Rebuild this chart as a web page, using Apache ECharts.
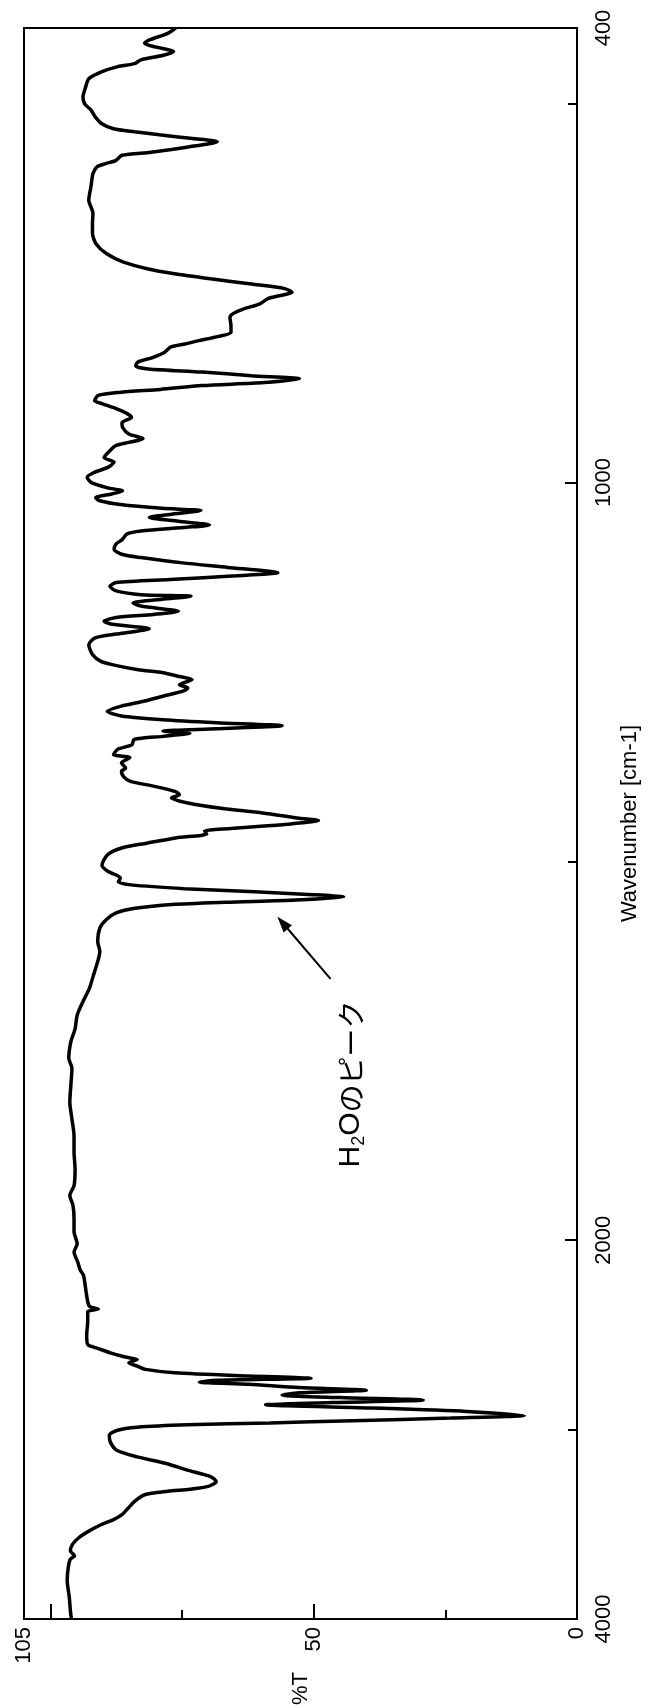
<!DOCTYPE html>
<html>
<head>
<meta charset="utf-8">
<script src="https://cdn.jsdelivr.net/npm/echarts@6/dist/echarts.min.js"></script>
<style>
html,body{margin:0;padding:0;background:#fff;}
#chart{width:649px;height:1708px;}
</style>
</head>
<body>
<div id="chart"></div>
<script>
// Wavenumber [cm-1] and %T
const wavenumbers = [
400,407,416,420,425,431,436,442,447,451,458,467,478,491,500,508,517,526,533,537,541,546,550,557,564,568,575,579,583,592,610,627,645,
658,671,685,698,709,718,724,731,738,744,749,753,757,764,771,777,782,793,802,807,813,817,821,828,835,841,846,850,854,859,863,868,872,877,881,885,892,896,903,909,914,
921,927,936,942,947,951,958,967,973,980,987,993,1000,1007,1011,1015,1020,1024,1029,1034,1037,1042,1046,1051,1056,1059,1064,1068,1075,1081,1088,1095,1099,1106,1112,1119,1123,1128,1132,1137,1143,1148,1150,1154,1159,1163,1170,1174,1178,1183,1187,1193,1197,
1200,1205,1214,1227,1236,1242,1247,1251,1256,1260,1267,1271,1275,1282,1289,1295,1302,1308,1313,1317,1321,1325,1328,1331,1335,1339,1346,1352,1359,1363,1370,1377,1381,1388,1394,1401,1408,1412,1416,1423,1430,1436,1443,1446,1451,1456,1460,1464,1469,1476,1482,
1491,1505,1513,1518,1522,1527,1531,1536,1540,1544,1547,1551,1554,1557,1562,1568,1577,1588,1606,1619,1632,1650,1668,1685,1703,1721,1738,1760,
1773,1795,1818,1840,1862,1884,1906,1928,1941,1954,1972,1989,2019,2063,2115,2159,
2185,2255,2325,2351,2363,2377,2429,2499,2551,2572,2595,2617,2630,2647,2665,2682,2700,2717,2729,2740,2749,2761,2778,2792,2806,2818,2831,2844,2857,2869,2886,2904,2926,2939,2953,2965,2975,2988,3005,3031,3066,3109,3144,3179,3214,3249,3275,3300,3315,3326,
3344,3379,3414,3449,3475,3501,3536,3571,3606,3640,3667,3684,3728,3797,3885,3955,4000
];
const transmittance = [
76.2,77.7,81.3,82.1,80.1,76.6,78.5,82.8,84.0,87.2,90.3,92.7,93.3,93.8,93.5,92.3,91.5,90.3,88.0,84.0,79.3,73.0,68.3,73.8,80.9,86.4,87.6,89.5,91.1,91.9,92.3,92.7,91.9,
92.0,92.0,91.3,89.3,86.1,81.4,76.7,69.6,61.8,55.5,54.1,56.3,58.6,60.2,63.4,65.3,65.9,65.7,65.7,68.1,72.0,74.4,77.1,78.3,80.6,83.4,83.8,81.4,71.2,61.8,52.7,59.4,71.2,79.1,86.9,90.9,91.6,90.1,87.3,85.4,84.6,
86.4,86.3,85.1,82.4,85.1,87.5,88.7,89.8,87.9,89.1,91.8,93.0,92.2,89.1,86.3,88.3,91.4,90.6,86.7,78.8,71.4,77.3,81.2,75.7,69.8,74.1,82.8,85.5,86.3,87.5,87.9,86.3,82.8,74.9,66.3,56.8,64.7,77.3,87.5,88.7,87.5,82.8,73.3,78.8,84.3,82.8,75.7,80.4,87.5,89.8,88.3,81.2,84.3,
87.5,91.5,92.7,92.0,90.4,87.2,83.3,78.6,75.5,73.1,75.5,73.9,74.7,78.6,82.5,86.5,89.2,86.5,78.6,68.4,56.0,68.4,78.6,73.5,78.6,84.1,84.5,87.2,88.0,84.9,86.5,85.7,86.5,86.1,84.9,80.2,76.2,75.5,77.0,73.9,67.6,59.7,52.7,49.1,55.0,64.5,70.7,70.3,76.2,81.7,86.3,
89.1,90.2,89.1,87.5,86.7,87.1,84.7,74.5,61.2,50.1,44.3,53.3,66.7,76.9,83.9,87.5,89.4,90.6,91.0,90.6,91.0,91.8,92.6,93.8,94.9,95.3,96.1,96.5,
95.9,96.1,96.3,95.9,95.5,95.5,95.3,95.5,96.3,95.7,95.5,95.5,94.9,95.5,94.8,94.3,
93.7,93.3,92.9,92.5,90.9,92.9,92.9,93.1,92.9,90.9,88.6,85.8,83.5,85.1,83.5,81.9,76.4,62.3,50.5,68.5,71.7,62.3,52.8,40.0,52.8,56.0,45.0,29.2,46.5,59.1,38.7,21.0,10.0,24.0,42.6,58.3,74.0,83.5,87.4,88.8,88.6,87.4,83.5,78.0,74.0,69.5,68.5,70.0,73.5,77.7,
82.1,84.0,85.2,86.4,88.0,90.3,92.7,94.6,95.8,96.2,95.4,96.2,96.6,96.8,96.4,96.2,96.0
];
// Axis tick values
const wnLabelTicks = [400, 1000, 2000, 4000];
const wnMinorTicks = [500, 1500, 3000];
const tLabelTicks = [0, 50, 105];
const tMajorTicks = [50, 100];
const tMinorTicks = [25, 75];
// Annotation arrow (from label to the H2O peak), in data units [%T, cm-1]
const arrowFrom = [46.8, 1655];
const arrowTo = [55.9, 1581];

// Split wavenumber scale: above 2000 cm-1 compressed by a factor of 4
const BREAK = 2000, COMPRESS = 4;
function toAxis(w) { return w <= BREAK ? w : BREAK + (w - BREAK) / COMPRESS; }
function fromAxis(u) { return u <= BREAK ? u : BREAK + (u - BREAK) * COMPRESS; }

const seriesData = wavenumbers.map((w, i) => [transmittance[i], toAxis(w)]);

const FONT = 'Liberation Sans, Arial, Helvetica, sans-serif';
const chart = echarts.init(document.getElementById('chart'), null, {renderer: 'canvas'});
chart.setOption({
  animation: false,
  backgroundColor: '#ffffff',
  grid: {left: 24, right: 69, top: 28, bottom: 87, show: true, borderColor: '#000', borderWidth: 2, backgroundColor: 'transparent'},
  xAxis: [{
    type: 'value', min: 0, max: 105, inverse: true, position: 'bottom',
    axisLine: {show: true, lineStyle: {color: '#000', width: 2}},
    axisTick: {show: true, inside: true, length: 15, lineStyle: {color: '#000', width: 2}, customValues: tMajorTicks},
    axisLabel: {show: true, rotate: 90, margin: 8, color: '#000', fontSize: 22, fontFamily: FONT, customValues: tLabelTicks, showMinLabel: true, showMaxLabel: true},
    splitLine: {show: false},
    name: '%T', nameLocation: 'middle', nameRotate: 90, nameGap: 53, nameMoveOverlap: false,
    nameTextStyle: {color: '#000', fontSize: 22, fontFamily: FONT}
  }, {
    type: 'value', min: 0, max: 105, inverse: true, position: 'bottom',
    axisLine: {show: false},
    axisTick: {show: true, inside: true, length: 9, lineStyle: {color: '#000', width: 2}, customValues: tMinorTicks},
    axisLabel: {show: false}, splitLine: {show: false}
  }],
  yAxis: [{
    type: 'value', min: toAxis(400), max: toAxis(4000), inverse: true, position: 'right',
    axisLine: {show: true, lineStyle: {color: '#000', width: 2}},
    axisTick: {show: true, inside: true, length: 12, lineStyle: {color: '#000', width: 2}, customValues: wnLabelTicks.map(toAxis)},
    axisLabel: {show: true, rotate: 90, margin: 16, color: '#000', fontSize: 22, fontFamily: FONT,
      customValues: wnLabelTicks.map(toAxis), showMinLabel: true, showMaxLabel: true,
      formatter: v => String(Math.round(fromAxis(v)))},
    splitLine: {show: false},
    name: 'Wavenumber [cm-1]', nameLocation: 'middle', nameRotate: 90, nameGap: 42, nameMoveOverlap: false,
    nameTextStyle: {color: '#000', fontSize: 22, fontFamily: FONT}
  }, {
    type: 'value', min: toAxis(400), max: toAxis(4000), inverse: true, position: 'right',
    axisLine: {show: false},
    axisTick: {show: true, inside: true, length: 9, lineStyle: {color: '#000', width: 2}, customValues: wnMinorTicks.map(toAxis)},
    axisLabel: {show: false}, splitLine: {show: false}
  }],
  series: [{
    type: 'line', xAxisIndex: 0, yAxisIndex: 0,
    data: seriesData, symbol: 'none', showSymbol: false, smooth: 0.25,
    lineStyle: {color: '#000', width: 3.5}, silent: true,
    markLine: {
      silent: true, symbol: ['none', 'triangle'], symbolSize: [11, 16],
      label: {show: false},
      lineStyle: {color: '#000', width: 2, type: 'solid'},
      data: [[{coord: [arrowFrom[0], toAxis(arrowFrom[1])]}, {coord: [arrowTo[0], toAxis(arrowTo[1])]}]]
    }
  }],
  graphic: [{
    type: 'text', x: 351, y: 1084, rotation: Math.PI / 2,
    style: {
      text: '{h|H}{s|2}{h|O}{j|のピーク}',
      align: 'center', verticalAlign: 'middle', fill: '#000',
      rich: {
        h: {fontSize: 30, fontFamily: FONT, lineHeight: 34, fill: '#000'},
        s: {fontSize: 18, fontFamily: FONT, lineHeight: 34, verticalAlign: 'bottom', fill: '#000'},
        j: {fontSize: 28, fontFamily: 'Noto Sans CJK JP', lineHeight: 34, fill: '#000'}
      }
    }
  }]
});
</script>
</body>
</html>
